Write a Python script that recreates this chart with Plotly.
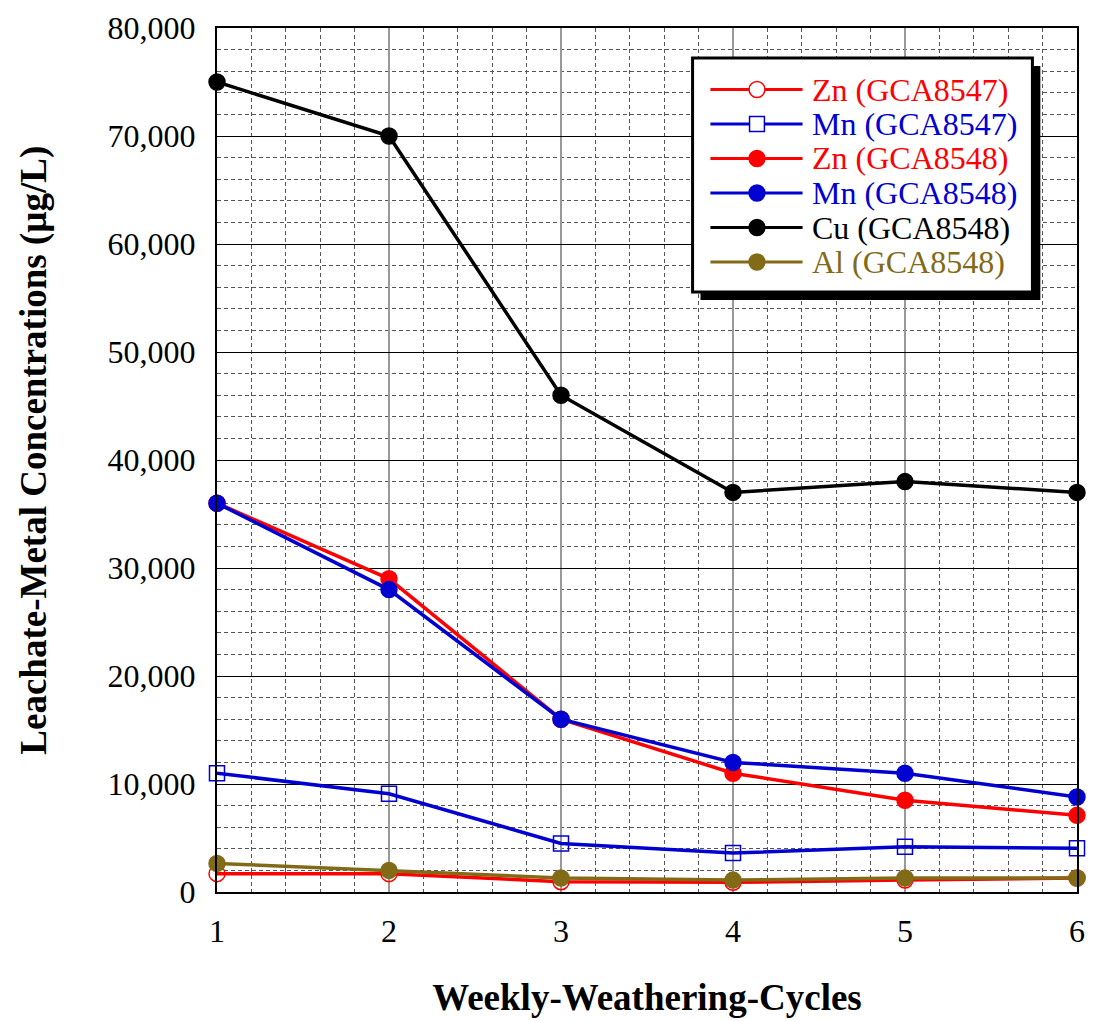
import plotly.graph_objects as go

# Weekly weathering cycles
cycles = [1, 2, 3, 4, 5, 6]

# Leachate metal concentrations (µg/L)
zn_8547 = [1700, 1700, 950, 900, 1100, 1300]
mn_8547 = [11000, 9100, 4500, 3600, 4200, 4050]
zn_8548 = [36000, 29000, 16000, 11000, 8500, 7100]
mn_8548 = [36000, 28000, 16000, 12000, 11000, 8800]
cu_8548 = [75000, 70000, 46000, 37000, 38000, 37000]
al_8548 = [2650, 2000, 1300, 1100, 1300, 1300]

RED = "#FF0000"
BLUE = "#0000D0"
BLACK = "#000000"
OLIVE = "#826B17"

series = [
    ("Zn (GCA8547)", zn_8547, RED, "circle-open", 16),
    ("Mn (GCA8547)", mn_8547, BLUE, "square-open", 15),
    ("Zn (GCA8548)", zn_8548, RED, "circle", 16),
    ("Mn (GCA8548)", mn_8548, BLUE, "circle", 16),
    ("Cu (GCA8548)", cu_8548, BLACK, "circle", 16),
    ("Al (GCA8548)", al_8548, OLIVE, "circle", 16),
]

FONT = "Liberation Serif"
W, H = 1095, 1021
ML, MR, MT, MB = 217, 10, 28, 129
PW, PH = W - ML - MR, H - MT - MB


def px(xp):
    """page x pixel -> paper x"""
    return (xp - ML) / PW


def py(yp):
    """page y pixel -> paper y"""
    return (H - MB - yp) / PH


fig = go.Figure()
for name, vals, color, symbol, size in series:
    fig.add_trace(go.Scatter(
        x=cycles, y=vals, name=name, mode="lines+markers",
        line=dict(color=color, width=3.5),
        marker=dict(symbol=symbol, size=size, color=color,
                    line=dict(color=color, width=1.5)),
        cliponaxis=False, showlegend=False,
    ))

# ---- legend box with drop shadow ----
shapes = []
box_l, box_r, box_t, box_b = 697, 1040, 58, 292
shadow = 8
shapes.append(dict(type="rect", xref="paper", yref="paper",
                   x0=px(box_l + shadow), x1=px(box_r + shadow),
                   y0=py(box_b + shadow), y1=py(box_t + shadow),
                   fillcolor="black", line=dict(width=0), layer="above"))
shapes.append(dict(type="rect", xref="paper", yref="paper",
                   x0=px(box_l), x1=px(box_r), y0=py(box_b), y1=py(box_t),
                   fillcolor="white", line=dict(color="black", width=3),
                   layer="above"))

annotations = []
row0, row_gap = 89.5, 34.5
seg_l, seg_r, mark_x, text_x = 715, 808, 762, 816
for i, (name, vals, color, symbol, size) in enumerate(series):
    yc = row0 + i * row_gap
    shapes.append(dict(type="line", xref="paper", yref="paper",
                       x0=px(seg_l), x1=px(seg_r), y0=py(yc), y1=py(yc),
                       line=dict(color=color, width=3), layer="above"))
    r = size / 2
    if symbol.startswith("square"):
        r = 7.5
        shapes.append(dict(type="rect", xref="paper", yref="paper",
                           x0=px(mark_x - r), x1=px(mark_x + r),
                           y0=py(yc + r), y1=py(yc - r),
                           fillcolor="white", line=dict(color=color, width=1.5),
                           layer="above"))
    else:
        filled = not symbol.endswith("open")
        shapes.append(dict(type="circle", xref="paper", yref="paper",
                           x0=px(mark_x - r), x1=px(mark_x + r),
                           y0=py(yc + r), y1=py(yc - r),
                           fillcolor=color if filled else "white",
                           line=dict(color=color, width=1.5),
                           layer="above"))
    annotations.append(dict(xref="paper", yref="paper", x=px(text_x), y=py(yc),
                            xanchor="left", yanchor="middle", showarrow=False,
                            text=name, font=dict(family=FONT, size=32, color=color)))

# y-axis title, placed as rotated text
annotations.append(dict(xref="paper", yref="paper", x=px(32), y=py(450),
                        xanchor="center", yanchor="middle", showarrow=False,
                        textangle=-90,
                        text="<b>Leachate-Metal Concentrations (µg/L)</b>",
                        font=dict(family=FONT, size=37, color="black")))

DASH = "4px,3px"

fig.update_layout(
    width=W, height=H,
    margin=dict(l=ML, r=MR, t=MT, b=MB),
    paper_bgcolor="white", plot_bgcolor="white",
    font=dict(family=FONT, size=32, color="black"),
    showlegend=False,
    shapes=shapes,
    annotations=annotations,
    xaxis=dict(
        range=[1, 6], dtick=1, tick0=1,
        showgrid=True, gridcolor="#999999", gridwidth=2,
        showline=True, linecolor="black", linewidth=2, mirror=True,
        ticks="", tickfont=dict(family=FONT, size=32),
        ticklabelstandoff=10,
        zeroline=False,
        minor=dict(dtick=0.2, tick0=1, showgrid=True, gridcolor="#555555",
                   griddash=DASH, gridwidth=1),
        title=dict(text="<b>Weekly-Weathering-Cycles</b>",
                   font=dict(family=FONT, size=37), standoff=36),
    ),
    yaxis=dict(
        range=[0, 80000], dtick=10000, tickformat=",d",
        showgrid=True, gridcolor="black", gridwidth=1,
        showline=True, linecolor="black", linewidth=2, mirror=True,
        ticks="", tickfont=dict(family=FONT, size=32),
        ticklabelstandoff=13,
        zeroline=False,
        minor=dict(dtick=2000, showgrid=True, gridcolor="#555555",
                   griddash=DASH, gridwidth=1),
    ),
)

fig.write_html("out.html")
